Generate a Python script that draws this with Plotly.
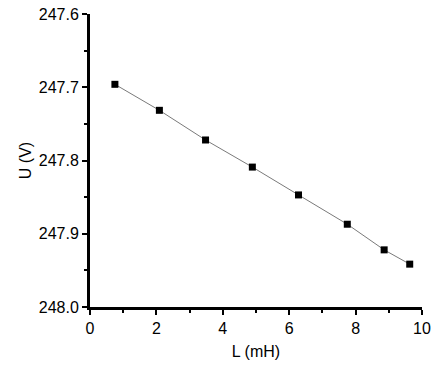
import plotly.graph_objects as go

L_mH = [0.75, 2.09, 3.48, 4.89, 6.28, 7.75, 8.86, 9.63]
U_V = [247.696, 247.7315, 247.772, 247.809, 247.847, 247.887, 247.922, 247.9415]
y_ticks = [247.6, 247.7, 247.8, 247.9, 248.0]
y_tick_text = ["247.6", "247.7", "247.8", "247.9", "248.0"]
x_ticks = [0, 2, 4, 6, 8, 10]

fig = go.Figure()
fig.add_trace(go.Scatter(
    x=L_mH, y=U_V, mode="lines+markers",
    line=dict(color="#7a7a7a", width=1),
    marker=dict(symbol="square", size=7, color="black"),
    showlegend=False,
))

font = dict(family="Liberation Sans, Arial, sans-serif", size=16, color="black")
fig.update_layout(
    width=438, height=366,
    margin=dict(l=90, r=16, t=14, b=59),
    paper_bgcolor="white", plot_bgcolor="white",
    font=font,
    xaxis=dict(
        range=[0, 10], tickvals=x_ticks, showgrid=False, zeroline=False,
        showline=True, linecolor="black", linewidth=3, automargin=False,
        ticks="outside", ticklen=5, tickwidth=2, tickcolor="black",
        minor=dict(ticks="outside", ticklen=3, tickwidth=2, tickcolor="black", dtick=1),
        title=dict(text="L (mH)", font=font, standoff=10),
        tickfont=font,
    ),
    yaxis=dict(
        range=[248.0, 247.6], tickvals=y_ticks, ticktext=y_tick_text,
        showgrid=False, zeroline=False,
        showline=True, linecolor="black", linewidth=3, automargin=False,
        ticks="outside", ticklen=5, tickwidth=2, tickcolor="black",
        minor=dict(ticks="outside", ticklen=3, tickwidth=2, tickcolor="black", dtick=0.05),
        title=dict(text="U (V)", font=font, standoff=4),
        tickfont=font,
    ),
)
fig.write_html("out.html", config={"displayModeBar": False},
               post_script="document.body.style.margin='0';document.body.style.overflow='hidden';")
